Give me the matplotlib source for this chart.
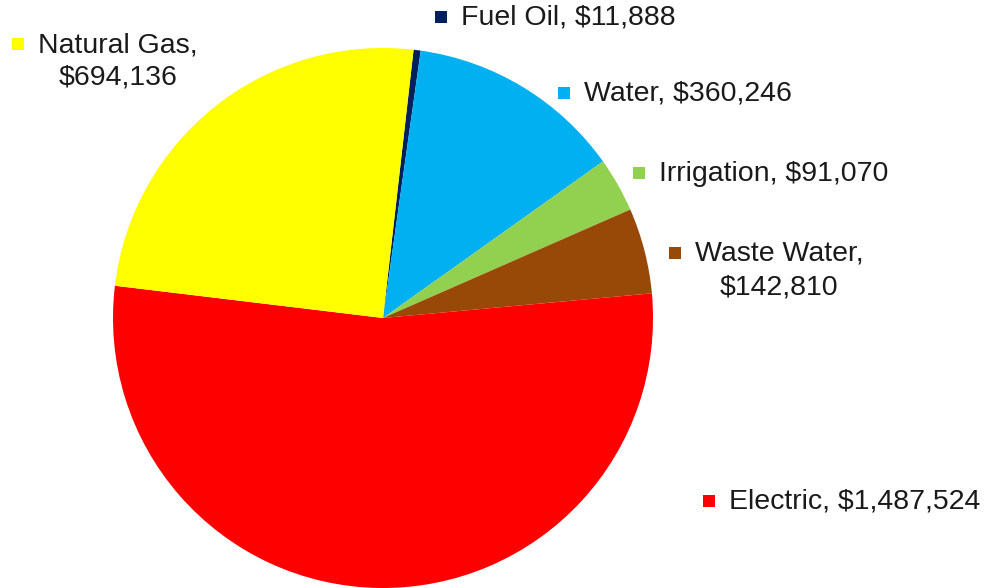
import matplotlib
matplotlib.use('Agg')
import matplotlib.pyplot as plt

# slices in clockwise order starting near the top
categories = ['Fuel Oil', 'Water', 'Irrigation', 'Waste Water', 'Electric', 'Natural Gas']
values = [11888, 360246, 91070, 142810, 1487524, 694136]
colors = ['#002060', '#00B0F0', '#92D050', '#984807', '#FF0000', '#FFFF00']

# label text and where it sits (pixel coords of the marker)
label_text = ['Fuel Oil, $11,888', 'Water, $360,246', 'Irrigation, $91,070',
              'Waste Water,\n$142,810', 'Electric, $1,487,524', 'Natural Gas,\n$694,136']
marker_pos = [(441, 17), (564, 93), (639, 173), (675, 253), (709, 501), (18, 44)]

plt.rcParams['font.family'] = ['Liberation Sans', 'DejaVu Sans']
fs = 20.5

fig = plt.figure(figsize=(9.92, 5.88), dpi=100)

ax = fig.add_axes([0.1139, 0.0, 0.5444, 0.9184])
ax.pie(values, colors=colors, startangle=83.5, counterclock=False,
       wedgeprops=dict(linewidth=0))
ax.set_xlim(-1, 1)
ax.set_ylim(-1, 1)
ax.set_aspect('equal')
ax.axis('off')

# overlay in pixel units for the labels
lab = fig.add_axes([0, 0, 1, 1], zorder=5)
lab.set_xlim(0, 992)
lab.set_ylim(588, 0)
lab.axis('off')
lab.patch.set_alpha(0)

for i in range(len(categories)):
    mx, my = marker_pos[i]
    lab.scatter(mx, my, marker='s', s=85, color=colors[i], linewidths=0)
    lines = label_text[i].split('\n')
    t = lab.text(mx + 20, my + 1, lines[0], fontsize=fs, va='center', ha='left', color='#1a1a1a')
    if len(lines) > 1:
        # second line centred under the first
        fig.canvas.draw()
        bb = t.get_window_extent()
        cx = (bb.x0 + bb.x1) / 2
        lab.text(cx, my + 34, lines[1], fontsize=fs, va='center', ha='center', color='#1a1a1a')

plt.savefig('out.png', dpi=100)
